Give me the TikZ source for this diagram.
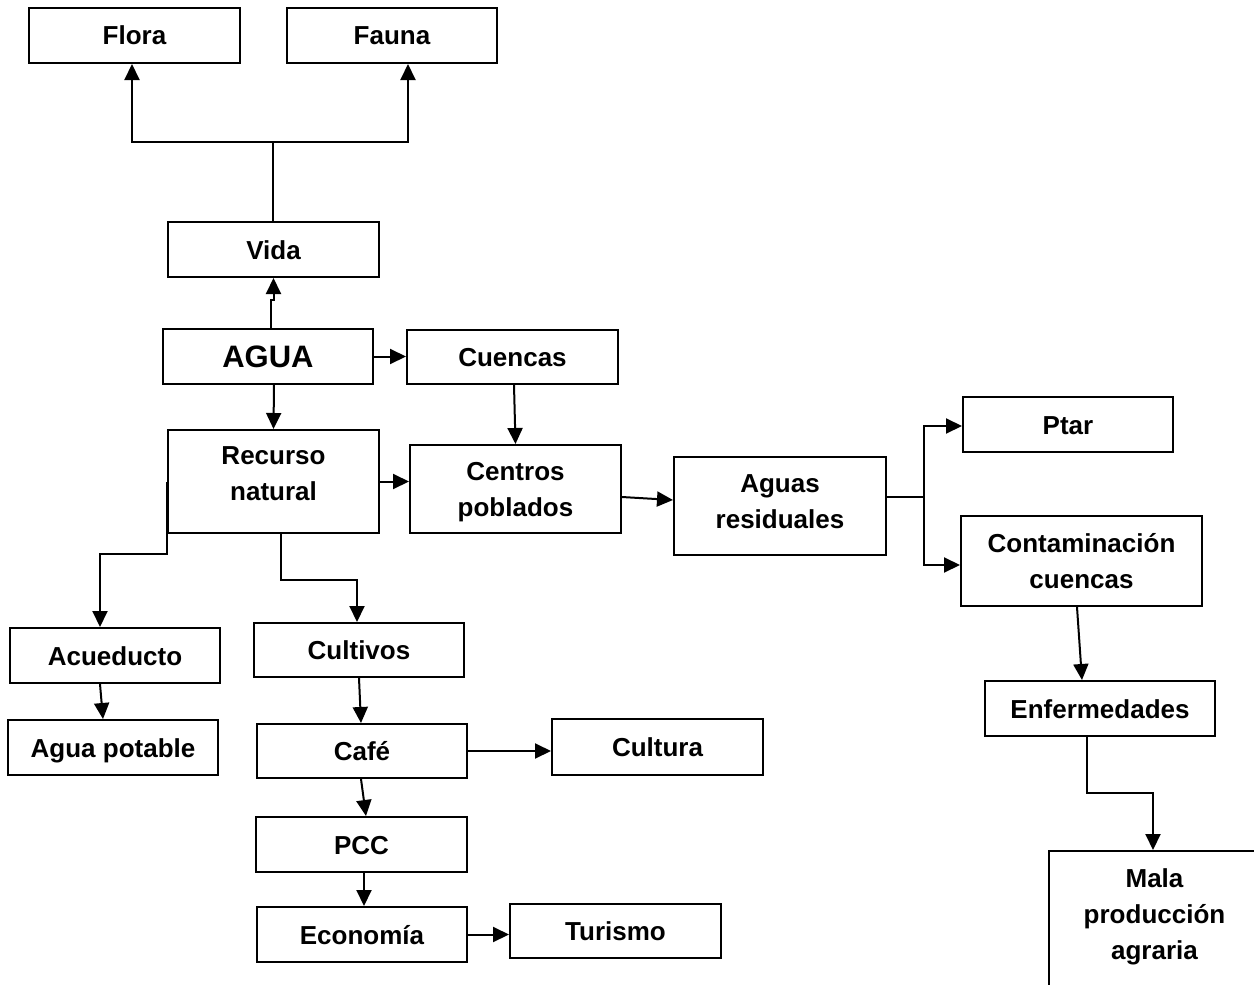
\documentclass[tikz,border=0pt]{standalone}
\usepackage{fontspec}
\setmainfont{Liberation Sans}
\usetikzlibrary{arrows.meta}
\begin{document}
\begin{tikzpicture}[x=1pt,y=-1pt,
  bx/.style={draw, line width=2pt, rectangle, inner sep=0pt, font=\fontsize{26}{36}\selectfont\bfseries, align=center},
  bxone/.style={text height=19pt, text depth=0pt},
  txt/.style={inner sep=0pt, font=\fontsize{26}{36}\selectfont\bfseries, align=center},
  arr/.style={line width=2pt, -{Triangle[length=16pt,width=15pt]}}]
\useasboundingbox (0,0) rectangle (1254,985);
\clip (0,0) rectangle (1254,985);
% boxes
\node[bx,bxone,minimum width=211pt,minimum height=55pt] (flora) at (134.5,35.5) {Flora};
\node[bx,bxone,minimum width=210pt,minimum height=55pt] (fauna) at (392,35.5) {Fauna};
\node[bx,bxone,minimum width=211pt,minimum height=55pt] (vida) at (273.5,249.5) {Vida};
\node[bx,minimum width=210pt,minimum height=55pt,font=\fontsize{31}{36}\selectfont\bfseries,text height=22pt,text depth=0pt] (agua) at (268,356.5) {AGUA};
\node[bx,bxone,minimum width=211pt,minimum height=54pt] (cuencas) at (512.5,357) {Cuencas};
\node[bx,minimum width=211pt,minimum height=103pt] (recurso) at (273.5,481.5) {};
\node[txt] (recursoT) at (273.5,474) {Recurso\\natural};
\node[bx,minimum width=211pt,minimum height=88pt] (centros) at (515.5,489) {};
\node[txt] (centrosT) at (515.5,492.5) {Centros\\poblados};
\node[bx,minimum width=212pt,minimum height=98pt] (aguas) at (780,506) {};
\node[txt] (aguasT) at (780,501.5) {Aguas\\residuales};
\node[bx,bxone,minimum width=210pt,minimum height=55pt] (ptar) at (1068,424.5) {Ptar};
\node[bx,minimum width=241pt,minimum height=90pt] (conta) at (1081.5,561) {Contaminación\\cuencas};
\node[bx,bxone,minimum width=230pt,minimum height=55pt] (enf) at (1100,708.5) {Enfermedades};
\node[bx,minimum width=211pt,minimum height=160pt] (mala) at (1154.5,931) {};
\node[txt] (malaT) at (1154.5,917) {Mala\\producción\\agraria};
\node[bx,bxone,minimum width=210pt,minimum height=55pt] (acue) at (115,655.5) {Acueducto};
\node[bx,bxone,minimum width=210pt,minimum height=55pt] (potable) at (113,747.5) {Agua potable};
\node[bx,bxone,minimum width=210pt,minimum height=54pt] (cultivos) at (359,650) {Cultivos};
\node[bx,bxone,minimum width=210pt,minimum height=54pt] (cafe) at (362,751) {Café};
\node[bx,bxone,minimum width=211pt,minimum height=56pt] (cultura) at (657.5,747) {Cultura};
\node[bx,bxone,minimum width=211pt,minimum height=55pt] (pcc) at (361.5,844.5) {PCC};
\node[bx,bxone,minimum width=210pt,minimum height=55pt] (eco) at (362,934.5) {Economía};
\node[bx,bxone,minimum width=211pt,minimum height=54pt] (turismo) at (615.5,931) {Turismo};
% connectors
\draw[arr] ([xshift=-0.5pt]vida.north) -- ++(0,-79) -| ([xshift=-2.5pt]flora.south);
\draw[arr] ([xshift=-0.5pt]vida.north) -- ++(0,-79) -| ([xshift=16pt]fauna.south);
\draw[arr] ([xshift=3pt]agua.north) -- ++(0,-28) -| (vida.south);
\draw[arr] (agua.east) -- (agua.east -| cuencas.west);
\draw[arr] ([xshift=6pt]agua.south) -- (recurso.north);
\draw[arr] ([xshift=1.5pt]cuencas.south) -- (centros.north);
\draw[arr] (recurso.east) -- (recurso.east -| centros.west);
\draw[arr] ([yshift=-8pt]centros.east) -- ([yshift=6pt]aguas.west);
\draw[arr] ([yshift=9pt]aguas.east) -- ++(37,0) |- ([yshift=-1.5pt]ptar.west);
\draw[arr] ([yshift=9pt]aguas.east) -- ++(37,0) |- ([yshift=-4pt]conta.west);
\draw[arr] ([xshift=-4.5pt]conta.south) -- ([xshift=-18pt]enf.north);
\draw[arr] ([xshift=-13pt]enf.south) -- ++(0,56) -| ([xshift=-1.5pt]mala.north);
\draw[arr] (recurso.west) -- ++(0,72.5) -| ([xshift=-15pt]acue.north);
\draw[arr] ([xshift=7.5pt]recurso.south) -- ++(0,46) -| ([xshift=-2pt]cultivos.north);
\draw[arr] ([xshift=-15pt]acue.south) -- ([xshift=-10pt]potable.north);
\draw[arr] (cultivos.south) -- ([xshift=-1pt]cafe.north);
\draw[arr] (cafe.east) -- (cafe.east -| cultura.west);
\draw[arr] ([xshift=-1pt]cafe.south) -- ([xshift=4.5pt]pcc.north);
\draw[arr] ([xshift=2.5pt]pcc.south) -- ([xshift=2pt]eco.north);
\draw[arr] (eco.east) -- (eco.east -| turismo.west);
\end{tikzpicture}
\end{document}
